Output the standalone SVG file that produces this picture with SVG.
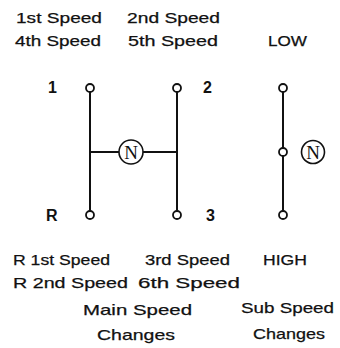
<svg xmlns="http://www.w3.org/2000/svg" width="340" height="348" viewBox="0 0 340 348">
<style>
.t{font-family:"Liberation Sans",Arial,sans-serif;font-size:15px;fill:#111;stroke:#111;stroke-width:0.25;}
.b{font-weight:bold;font-size:16px;stroke-width:0;}
.p{fill:#fff;stroke:#111;stroke-width:1.8;}
.n{fill:#fff;stroke:#111;stroke-width:1.6;}
.nt{font-family:"Liberation Serif","Times New Roman",serif;font-size:19px;fill:#111;text-anchor:middle;}
.c{stroke:#111;stroke-width:2;fill:none;}
</style>
<rect width="340" height="348" fill="#fff"/>
<g id="connectors">
<line class="c" x1="90" y1="92" x2="90" y2="211"/>
<line class="c" x1="177" y1="92" x2="177" y2="211"/>
<line class="c" x1="90" y1="152" x2="119" y2="152"/>
<line class="c" x1="143" y1="152" x2="177" y2="152"/>
<line class="c" x1="283" y1="92" x2="283" y2="148"/>
<line class="c" x1="283" y1="156" x2="283" y2="211"/>
</g>
<g id="labels-top">
<text class="t" x="16" y="23" textLength="86" lengthAdjust="spacingAndGlyphs">1st Speed</text>
<text class="t" x="127" y="23" textLength="93" lengthAdjust="spacingAndGlyphs">2nd Speed</text>
<text class="t" x="15" y="46" textLength="86" lengthAdjust="spacingAndGlyphs">4th Speed</text>
<text class="t" x="128" y="46" textLength="90" lengthAdjust="spacingAndGlyphs">5th Speed</text>
<text class="t" x="268" y="46" textLength="39" lengthAdjust="spacingAndGlyphs">LOW</text>
</g>
<g id="node-1">
<circle class="p" cx="90" cy="88" r="4"/>
<text class="t b" x="48" y="93">1</text>
</g>
<g id="node-2">
<circle class="p" cx="177" cy="88" r="4"/>
<text class="t b" x="203" y="93">2</text>
</g>
<g id="node-R">
<circle class="p" cx="90" cy="215" r="4"/>
<text class="t b" x="46" y="221">R</text>
</g>
<g id="node-3">
<circle class="p" cx="177" cy="215" r="4"/>
<text class="t b" x="206" y="221">3</text>
</g>
<g id="node-N-main">
<circle class="n" cx="131" cy="152" r="12"/>
<text class="nt" x="131" y="158.5">N</text>
</g>
<g id="node-LOW">
<circle class="p" cx="283" cy="88" r="4"/>
</g>
<g id="node-N-sub-pos">
<circle class="p" cx="283" cy="152" r="4"/>
</g>
<g id="node-HIGH">
<circle class="p" cx="283" cy="215" r="4"/>
</g>
<g id="node-N-sub">
<circle class="n" cx="313" cy="152" r="11.5"/>
<text class="nt" x="313" y="158.5">N</text>
</g>
<g id="labels-bottom">
<text class="t" x="13" y="265" textLength="97" lengthAdjust="spacingAndGlyphs">R 1st Speed</text>
<text class="t" x="145" y="265" textLength="85" lengthAdjust="spacingAndGlyphs">3rd Speed</text>
<text class="t" x="263" y="265" textLength="44" lengthAdjust="spacingAndGlyphs">HIGH</text>
<text class="t" x="13" y="288" textLength="115" lengthAdjust="spacingAndGlyphs">R 2nd Speed</text>
<text class="t" x="138" y="288" textLength="102" lengthAdjust="spacingAndGlyphs">6th Speed</text>
<text class="t" x="83" y="315" textLength="109" lengthAdjust="spacingAndGlyphs">Main Speed</text>
<text class="t" x="241" y="313" textLength="93" lengthAdjust="spacingAndGlyphs">Sub Speed</text>
<text class="t" x="97" y="340" textLength="78" lengthAdjust="spacingAndGlyphs">Changes</text>
<text class="t" x="253" y="339" textLength="72" lengthAdjust="spacingAndGlyphs">Changes</text>
</g>
</svg>
